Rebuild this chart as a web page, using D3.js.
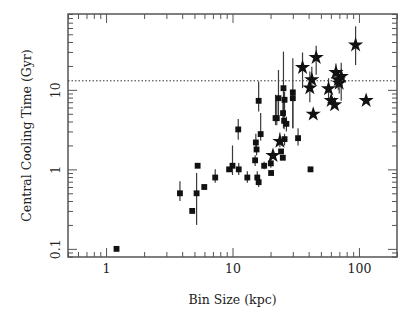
<!DOCTYPE html>
<html lang="en">
<head>
  <meta charset="UTF-8" />
  <title>Central Cooling Time vs Bin Size</title>
  <script src="https://d3js.org/d3.v7.min.js"></script>
  <style>
    body { margin: 0; background: #fff; }
    text { font-family: 'DejaVu Serif', serif; fill: #222; }
  </style>
</head>
<body>
<script>
  // squares: bin size (kpc), cooling time (Gyr), error bar low / high (null = none)
  const sqX  = [1.21, 3.84, 4.8, 5.2, 5.3, 5.98, 7.3, 9.4, 10.0, 11.2, 11.1, 13.1, 15.3, 15.5, 15.1, 15.7,
                16.1, 16.1, 16.7, 17.8, 20.1, 20.2, 21.9, 22.4, 23.1, 24.2, 25.0, 25.3, 25.1, 25.8,
                25.6, 25.8, 26.7, 30.0, 30.0, 33.0, 41.4];
  const sqY  = [0.1, 0.5, 0.3, 0.5, 1.11, 0.6, 0.79, 1.0, 1.11, 1.0, 3.18, 0.79, 2.18, 1.78, 1.3, 0.79,
                7.28, 0.69, 2.78, 1.11, 1.19, 0.9, 4.41, 4.4, 7.86, 1.68, 1.4, 10.5, 5.1, 7.5,
                4.08, 2.4, 3.74, 9.3, 7.86, 2.47, 1.0];
  const sqLo = [null, 0.40, null, 0.2, null, null, 0.68, null, 0.85, 0.85, 2.35, 0.68, 1.65, 1.5, 1.1, 0.68,
                5.35, 0.6, 2.3, 1.0, 1.05, null, 3.6, 3.6, 4.6, null, null, 3.3, 4.2, 4.5,
                3.2, 2.0, 3.0, 3.3, 3.3, 2.0, null];
  const sqHi = [null, 0.71, null, 0.9, null, null, 1.0, null, 2.0, 1.2, 4.3, 0.95, 2.8, 2.1, 1.5, 0.95,
                12.7, 0.8, 5.1, 1.25, 1.4, null, 8.7, 8.0, 17.8, null, null, 30.3, 7.0, 9.5,
                5.0, 2.8, 4.6, 25, 10, 3.3, null];

  // stars
  const stX  = [20.9, 23.7, 35.8, 40.9, 42.4, 43.5, 45.9, 57.5, 60.4, 64.2, 65.8, 68.6, 69.8, 72.4, 94.1, 114];
  const stY  = [1.49, 2.25, 19.1, 10.6, 13.4, 4.95, 25.5, 10.3, 7.35, 6.48, 16.5, 13.4, 12.1, 14.7, 36.7, 7.35];
  const stLo = [null, 1.9, 10.5, 7.0, 10.2, null, 15.5, 7.3, null, null, 10.6, 10.0, 9.0, 7.3, 20.5, null];
  const stHi = [null, 2.9, 29.5, 17.0, 19.6, null, 36.0, 14.0, null, null, 21.5, 17.0, 15.0, 22.0, 63.0, null];

  const xTicks = [1, 10, 100];
  const yTicks = [0.1, 1, 10];
  const refLine = 13;

  const W = 415, H = 312;
  const m = { left: 68, right: 18, top: 14, bottom: 55 };

  const svg = d3.select("body").append("svg").attr("width", W).attr("height", H);

  const x = d3.scaleLog().domain([0.5, 200]).range([m.left, W - m.right]);
  const y = d3.scaleLog().domain([0.079, 90]).range([H - m.bottom, m.top]);

  const xMinor = x.ticks().filter(t => !xTicks.includes(t));
  const yMinor = y.ticks().filter(t => !yTicks.some(v => Math.abs(v - t) < 1e-9));

  function axisPair(axisFn, scale, ticks, minor, transform, labels) {
    const g = svg.append("g").attr("transform", transform);
    g.call(axisFn(scale).tickValues(ticks).tickSize(-9)
      .tickFormat(labels ? d3.format("") : ""));
    g.append("g").call(axisFn(scale).tickValues(minor).tickSize(-5).tickFormat(""));
    g.selectAll("path.domain").remove();
    g.selectAll("line").attr("stroke", "#555").attr("stroke-width", 1);
    return g;
  }

  const bottom = axisPair(d3.axisBottom, x, xTicks, xMinor, `translate(0,${H - m.bottom})`, true);
  bottom.selectAll(".tick text").attr("font-size", 12.5).attr("dy", "1.05em")
    .attr("font-family", "DejaVu Serif").attr("fill", "#222");
  axisPair(d3.axisTop, x, xTicks, xMinor, `translate(0,${m.top})`, false);
  const left = axisPair(d3.axisLeft, y, yTicks, yMinor, `translate(${m.left},0)`, true);
  left.selectAll(".tick text")
    .attr("font-size", 12.5).attr("font-family", "DejaVu Serif").attr("fill", "#222")
    .attr("transform", "rotate(-90)").attr("x", 0).attr("y", -8)
    .attr("dy", 0).attr("text-anchor", "middle");
  axisPair(d3.axisRight, y, yTicks, yMinor, `translate(${W - m.right},0)`, false);

  svg.append("rect")
    .attr("x", m.left).attr("y", m.top)
    .attr("width", W - m.left - m.right).attr("height", H - m.top - m.bottom)
    .attr("fill", "none").attr("stroke", "#555").attr("stroke-width", 1.5);

  // dotted reference line
  svg.append("line")
    .attr("x1", m.left).attr("x2", W - m.right)
    .attr("y1", y(refLine)).attr("y2", y(refLine))
    .attr("stroke", "#333").attr("stroke-width", 1).attr("stroke-dasharray", "1.5,2");

  const squares = sqX.map((v, i) => ({ x: v, y: sqY[i], lo: sqLo[i], hi: sqHi[i] }));
  const stars = stX.map((v, i) => ({ x: v, y: stY[i], lo: stLo[i], hi: stHi[i] }));

  // error bars
  svg.append("g").selectAll("line")
    .data(squares.concat(stars).filter(d => d.lo != null))
    .join("line")
    .attr("x1", d => x(d.x)).attr("x2", d => x(d.x))
    .attr("y1", d => y(d.lo)).attr("y2", d => y(d.hi))
    .attr("stroke", "#3a3a3a").attr("stroke-width", 1.2);

  svg.append("g").selectAll("path")
    .data(squares)
    .join("path")
    .attr("transform", d => `translate(${x(d.x)},${y(d.y)})`)
    .attr("d", d3.symbol(d3.symbolSquare, 34))
    .attr("fill", "#111");

  svg.append("g").selectAll("path")
    .data(stars)
    .join("path")
    .attr("transform", d => `translate(${x(d.x)},${y(d.y)})`)
    .attr("d", d3.symbol(d3.symbolStar, 72))
    .attr("fill", "#111");

  svg.append("text")
    .attr("x", (m.left + W - m.right) / 2).attr("y", 304)
    .attr("text-anchor", "middle").attr("font-size", 12.5)
    .text("Bin Size (kpc)");

  svg.append("text")
    .attr("transform", `translate(31,${(m.top + H - m.bottom) / 2}) rotate(-90)`)
    .attr("text-anchor", "middle").attr("font-size", 12.5)
    .text("Central Cooling Time (Gyr)");
</script>
</body>
</html>
